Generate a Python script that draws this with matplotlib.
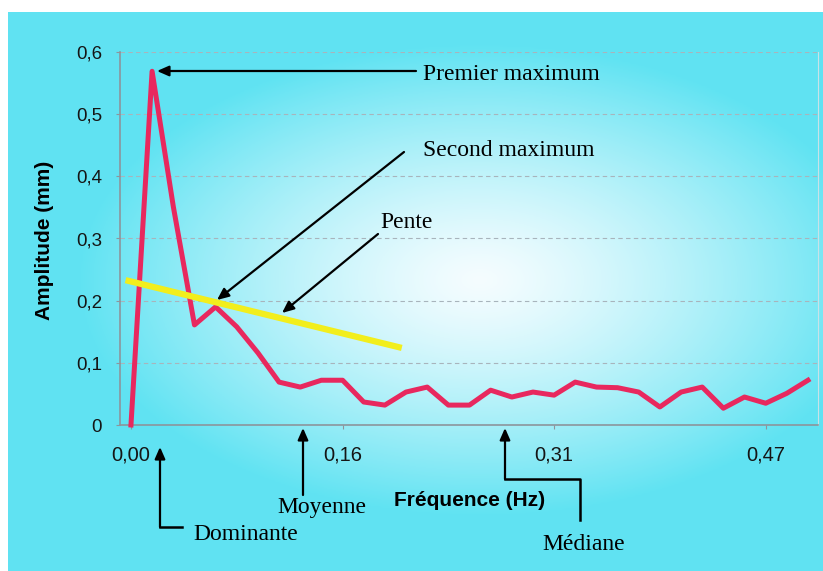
import numpy as np
import matplotlib.pyplot as plt
from matplotlib.lines import Line2D

W, H = 823, 571

# spectre d'amplitude (Hz / mm)
freq = [0.0000, 0.0156, 0.0313, 0.0469, 0.0625, 0.0781, 0.0938, 0.1094, 0.1250,
        0.1406, 0.1563, 0.1719, 0.1875, 0.2031, 0.2188, 0.2344, 0.2500, 0.2656,
        0.2813, 0.2969, 0.3125, 0.3281, 0.3438, 0.3594, 0.3750, 0.3906, 0.4063,
        0.4219, 0.4375, 0.4531, 0.4688, 0.4844, 0.5000]
amplitude = [0.000, 0.569, 0.351, 0.161, 0.190, 0.158, 0.116, 0.069, 0.061,
             0.072, 0.072, 0.037, 0.032, 0.053, 0.061, 0.032, 0.032, 0.056,
             0.045, 0.053, 0.048, 0.069, 0.061, 0.060, 0.053, 0.029, 0.053,
             0.061, 0.027, 0.045, 0.035, 0.051, 0.072]

# droite de pente
pente_freq = [-0.004, 0.200]
pente_amp = [0.233, 0.124]

xtick_vals = [0.0, 0.15625, 0.3125, 0.46875]
xtick_labels = ['0,00', '0,16', '0,31', '0,47']
ytick_vals = [0, 0.1, 0.2, 0.3, 0.4, 0.5, 0.6]
ytick_labels = ['0', '0,1', '0,2', '0,3', '0,4', '0,5', '0,6']


def px(x, y):
    # image pixel (from top) -> figure pixels
    return (x, H - y)


fig = plt.figure(figsize=(W / 100, H / 100), dpi=100)
fig.patch.set_facecolor('white')

# fond degrade cyan / blanc
bg = fig.add_axes([8 / W, 0, 1 - 8 / W, (H - 12) / H])
gx, gy = np.meshgrid(np.linspace(8, W, 400), np.linspace(12, H, 300))
t = np.sqrt(((gx - 480) / 400) ** 2 + ((gy - 280) / 235) ** 2)
t = np.clip(t, 0, 1) ** 1.3
cyan = np.array([0.38, 0.89, 0.95])
white = np.array([0.96, 0.99, 1.0])
img = white + (cyan - white) * t[..., None]
bg.imshow(img, aspect='auto')
bg.axis('off')

ax = fig.add_axes([120 / W, (H - 425) / H, (818 - 120) / W, (425 - 52) / H])
ax.patch.set_alpha(0)

ax.plot(freq, amplitude, color='#e8285e', lw=3.6, zorder=3, clip_on=False)
ax.plot(pente_freq, pente_amp, color='#f2ee1c', lw=4.5, solid_capstyle='butt', zorder=4)

ax.set_xlim(-0.0081, 0.5074)
ax.set_ylim(0, 0.6)
ax.set_xticks(xtick_vals)
ax.set_xticklabels(xtick_labels, fontfamily='Liberation Sans', fontsize=14.5, color='#151515')
ax.set_yticks(ytick_vals)
ax.set_yticklabels(ytick_labels, fontfamily='Liberation Sans', fontsize=13.5, color='#151515')
ax.tick_params(axis='y', length=3, color='#8c959c', pad=10)
ax.tick_params(axis='x', length=3, color='#8c959c', pad=12)

ax.yaxis.grid(True, color='#a8b4bc', lw=0.8, ls=(0, (4, 3)))
ax.set_axisbelow(True)
for s in ['left', 'bottom']:
    ax.spines[s].set_color('#8c959c')
    ax.spines[s].set_linewidth(1.2)
ax.spines['top'].set_visible(False)
ax.spines['right'].set_color('#c8e2e8')

fig.text(45 / W, 1 - 240 / H, 'Amplitude (mm)', rotation=90, ha='center', va='center',
         fontfamily='Liberation Sans', fontweight='bold', fontsize=15)
fig.text(470 / W, 1 - 500 / H, 'Fréquence (Hz)', ha='center', va='center',
         fontfamily='Liberation Sans', fontweight='bold', fontsize=15)

arrow = dict(arrowstyle='-|>,head_length=0.5,head_width=0.22', color='black',
             lw=1.6, mutation_scale=14, shrinkA=0, shrinkB=0)


def fleche(tip, tail):
    ax.annotate('', xy=px(*tip), xycoords='figure pixels', xytext=px(*tail),
                textcoords='figure pixels', arrowprops=arrow, annotation_clip=False)


def trait(pts):
    xs = [p[0] / W for p in pts]
    ys = [1 - p[1] / H for p in pts]
    fig.add_artist(Line2D(xs, ys, transform=fig.transFigure, color='black', lw=1.8))


def label(x, y, s, ha='left'):
    fig.text(x / W, 1 - y / H, s, ha=ha, va='center', fontfamily='Liberation Serif',
             fontsize=17, color='black')


fleche((157, 71), (416, 71))
label(423, 75, 'Premier maximum')

fleche((217, 300), (404, 152))
label(423, 150, 'Second maximum')

fleche((282, 313), (378, 234))
label(380, 222, 'Pente')

fleche((303, 428), (303, 495))
label(322, 508, 'Moyenne', ha='center')

trait([(182, 527), (160, 527)])
fleche((160, 447), (160, 527))
label(246, 534, 'Dominante', ha='center')

trait([(580, 520), (580, 479), (505, 479)])
fleche((505, 428), (505, 479))
label(584, 544, 'Médiane', ha='center')

fig.savefig('out.png', dpi=100)
